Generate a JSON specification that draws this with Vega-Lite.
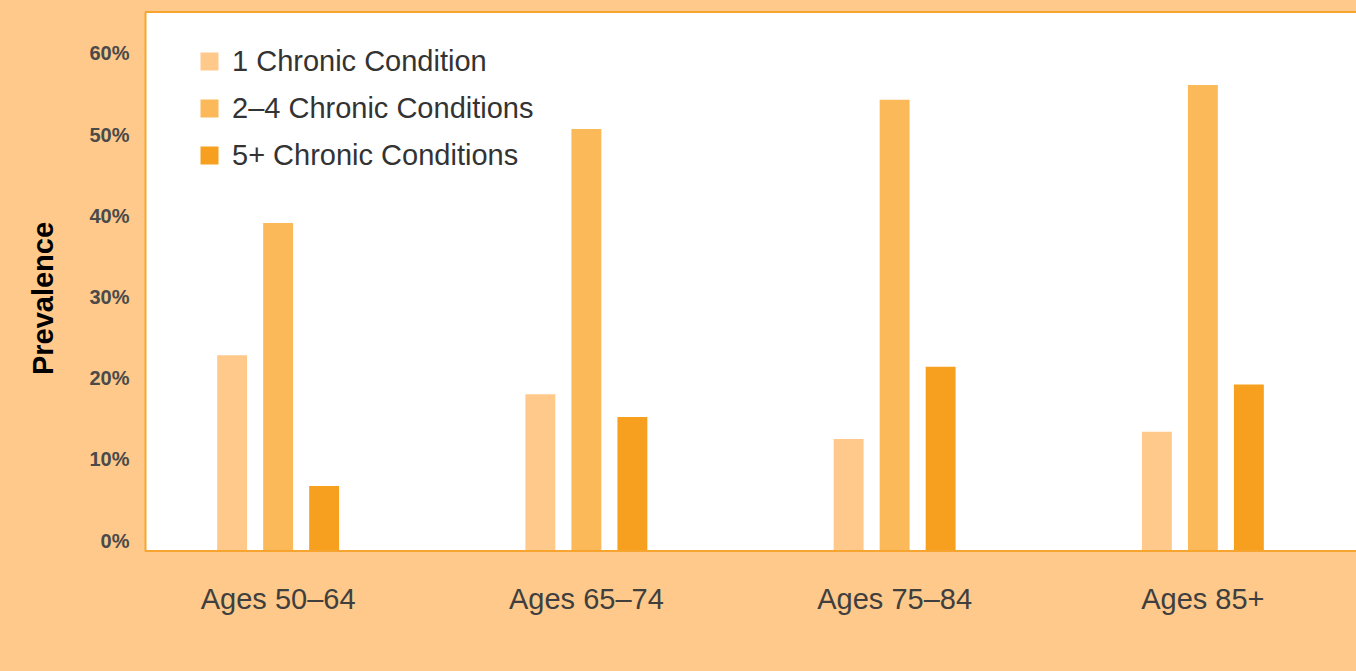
{
  "$schema": "https://vega.github.io/schema/vega-lite/v6.json",
  "width": 1211,
  "height": 539,
  "autosize": {"type": "none"},
  "padding": {"left": 145, "top": 12, "right": 0, "bottom": 120},
  "background": "#fec98a",
  "view": {"fill": "#ffffff", "stroke": null},
  "config": {"font": "Liberation Sans"},
  "layer": [
    {
      "data": {
        "values": [
          {"age": "Ages 50–64", "series": "1 Chronic Condition", "prevalence": 24.1},
          {"age": "Ages 50–64", "series": "2–4 Chronic Conditions", "prevalence": 40.4},
          {"age": "Ages 50–64", "series": "5+ Chronic Conditions", "prevalence": 8.0},
          {"age": "Ages 65–74", "series": "1 Chronic Condition", "prevalence": 19.3},
          {"age": "Ages 65–74", "series": "2–4 Chronic Conditions", "prevalence": 52.0},
          {"age": "Ages 65–74", "series": "5+ Chronic Conditions", "prevalence": 16.5},
          {"age": "Ages 75–84", "series": "1 Chronic Condition", "prevalence": 13.8},
          {"age": "Ages 75–84", "series": "2–4 Chronic Conditions", "prevalence": 55.6},
          {"age": "Ages 75–84", "series": "5+ Chronic Conditions", "prevalence": 22.7},
          {"age": "Ages 85+", "series": "1 Chronic Condition", "prevalence": 14.7},
          {"age": "Ages 85+", "series": "2–4 Chronic Conditions", "prevalence": 57.4},
          {"age": "Ages 85+", "series": "5+ Chronic Conditions", "prevalence": 20.5}
        ]
      },
      "mark": {"type": "bar"},
      "encoding": {
        "x": {
          "field": "age",
          "type": "nominal",
          "sort": ["Ages 50–64", "Ages 65–74", "Ages 75–84", "Ages 85+"],
          "scale": {"range": [-21, 1212], "paddingInner": 0.306, "paddingOuter": 0.153},
          "axis": {
            "title": null,
            "domain": false,
            "ticks": false,
            "tickSize": 0,
            "grid": false,
            "labelAngle": 0,
            "labelFontSize": 29,
            "labelColor": "#3f3f3f",
            "labelBaseline": "alphabetic",
            "labelPadding": 57
          }
        },
        "xOffset": {
          "field": "series",
          "type": "nominal",
          "sort": ["1 Chronic Condition", "2–4 Chronic Conditions", "5+ Chronic Conditions"],
          "scale": {"paddingInner": 0.35, "paddingOuter": 1}
        },
        "y": {
          "field": "prevalence",
          "type": "quantitative",
          "scale": {"domain": [0, 66.4], "nice": false},
          "axis": {
            "title": "Prevalence",
            "titleFontSize": 29,
            "titleFontWeight": "bold",
            "titleColor": "#000000",
            "titlePadding": 30,
            "titleY": 286,
            "values": [0, 10, 20, 30, 40, 50, 60],
            "labelExpr": "datum.value + '%'",
            "labelFontSize": 20,
            "labelFontWeight": "bold",
            "labelColor": "#4a4a4a",
            "labelPadding": 16,
            "labelOffset": -10,
            "labelBaseline": "middle",
            "labelFlush": false,
            "labelOverlap": false,
            "ticks": false,
            "tickSize": 0,
            "grid": false,
            "domainColor": "#f7a52f",
            "domainWidth": 2
          }
        },
        "color": {
          "field": "series",
          "type": "nominal",
          "sort": ["1 Chronic Condition", "2–4 Chronic Conditions", "5+ Chronic Conditions"],
          "scale": {"range": ["#fec98b", "#fbb959", "#f7a01f"]},
          "legend": {
            "title": null,
            "orient": "none",
            "legendX": 50,
            "legendY": 35,
            "padding": 0,
            "symbolType": "square",
            "symbolSize": 324,
            "symbolStrokeWidth": 0,
            "labelFontSize": 29,
            "labelColor": "#333333",
            "labelOffset": 8,
            "labelLimit": 0,
            "rowPadding": 17
          }
        }
      }
    },
    {
      "data": {"values": [{"edge": 0}, {"edge": 66.4}]},
      "mark": {"type": "rule", "color": "#f7a52f", "strokeWidth": 2},
      "encoding": {"y": {"field": "edge", "type": "quantitative"}}
    }
  ]
}
